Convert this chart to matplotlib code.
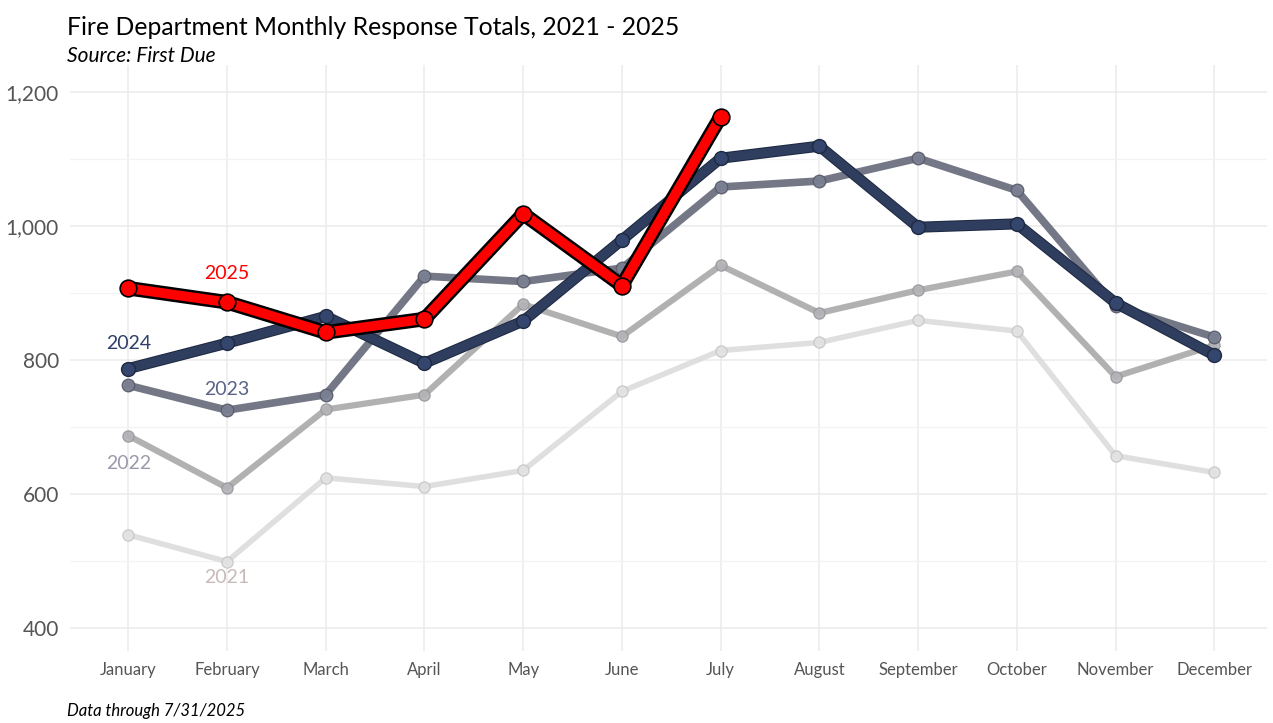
import matplotlib as mpl
mpl.use('Agg')
import matplotlib.pyplot as plt
import matplotlib.ticker as ticker

months = ['January', 'February', 'March', 'April', 'May', 'June', 'July',
          'August', 'September', 'October', 'November', 'December']

y2021 = [539, 499, 624, 611, 635, 753, 814, 826, 859, 843, 657, 632]
y2022 = [687, 609, 726, 748, 883, 835, 941, 870, 904, 932, 775, 822]
y2023 = [762, 725, 748, 925, 917, 937, 1058, 1067, 1101, 1053, 880, 834]
y2024 = [787, 825, 865, 795, 858, 979, 1101, 1119, 998, 1003, 885, 807]
y2025 = [907, 886, 841, 861, 1018, 911, 1163]

plt.rcParams['font.family'] = ['Lato', 'DejaVu Sans']

fig = plt.figure(figsize=(12.73, 7.23), dpi=100)
ax = fig.add_axes([0.055, 0.10, 0.94, 0.81])

x = list(range(12))
x25 = x[:len(y2025)]

# older years, lighter and underneath
ax.plot(x, y2021, color='#dcdcdc', lw=4, marker='o', ms=8, mfc='#e2e2e2',
        mec='#c8c8c8', mew=1, alpha=0.9, zorder=2)
ax.plot(x, y2022, color='#a9a9aa', lw=4.5, marker='o', ms=8, mfc='#b4b4b8',
        mec='#9a9a9e', mew=1, alpha=0.9, zorder=3)
ax.plot(x, y2023, color='#6c7080', lw=5.5, marker='o', ms=9, mfc='#7a7f92',
        mec='#5a5e6c', mew=1, alpha=0.95, zorder=4)
# 2024 with a thin dark outline
ax.plot(x, y2024, color='#1e2a42', lw=8, solid_capstyle='round', zorder=5)
ax.plot(x, y2024, color='#2f3d5e', lw=6.5, marker='o', ms=10, mfc='#34466e',
        mec='#1e2a42', mew=1, zorder=5)
# 2025 red with black outline
ax.plot(x25, y2025, color='black', lw=10.5, solid_capstyle='round',
        solid_joinstyle='round', zorder=6)
ax.plot(x25, y2025, color='#ff0000', lw=7, marker='o', ms=12,
        mfc='#ff0000', mec='black', mew=1.2, zorder=6)

# year labels
ax.text(1, 929, '2025', color='#ff0000', fontsize=14, ha='center', va='center')
ax.text(0, 825, '2024', color='#2f3f6a', fontsize=14, ha='center', va='center')
ax.text(1, 756, '2023', color='#5a6286', fontsize=14, ha='center', va='center')
ax.text(0, 645, '2022', color='#9a9aac', fontsize=14, ha='center', va='center')
ax.text(1, 475, '2021', color='#c9b9b9', fontsize=14, ha='center', va='center')

ax.set_xlim(-0.59, 11.53)
ax.set_ylim(366, 1240)
ax.set_xticks(x)
ax.set_xticklabels(months)
ax.yaxis.set_major_locator(ticker.MultipleLocator(200))
ax.yaxis.set_minor_locator(ticker.MultipleLocator(100))
ax.yaxis.set_major_formatter(ticker.FuncFormatter(lambda v, p: f'{int(v):,}'))
ax.grid(True, which='major', color='#ebebeb', lw=1.1)
ax.grid(True, which='minor', axis='y', color='#f3f3f3', lw=0.9)
ax.set_axisbelow(True)
for s in ax.spines.values():
    s.set_visible(False)
ax.tick_params(axis='both', which='both', length=0)
ax.tick_params(axis='y', labelsize=15, labelcolor='#555555', pad=8)
ax.tick_params(axis='x', labelsize=12, labelcolor='#555555', pad=8)

fig.text(0.053, 0.978, 'Fire Department Monthly Response Totals, 2021 - 2025',
         fontsize=17.8, color='black', va='top', ha='left')
fig.text(0.053, 0.937, 'Source: First Due', fontsize=15, style='italic',
         color='black', va='top', ha='left')
fig.text(0.053, 0.006, 'Data through 7/31/2025', fontsize=12, style='italic',
         color='black', va='bottom', ha='left')

plt.savefig('out.png', dpi=100)
